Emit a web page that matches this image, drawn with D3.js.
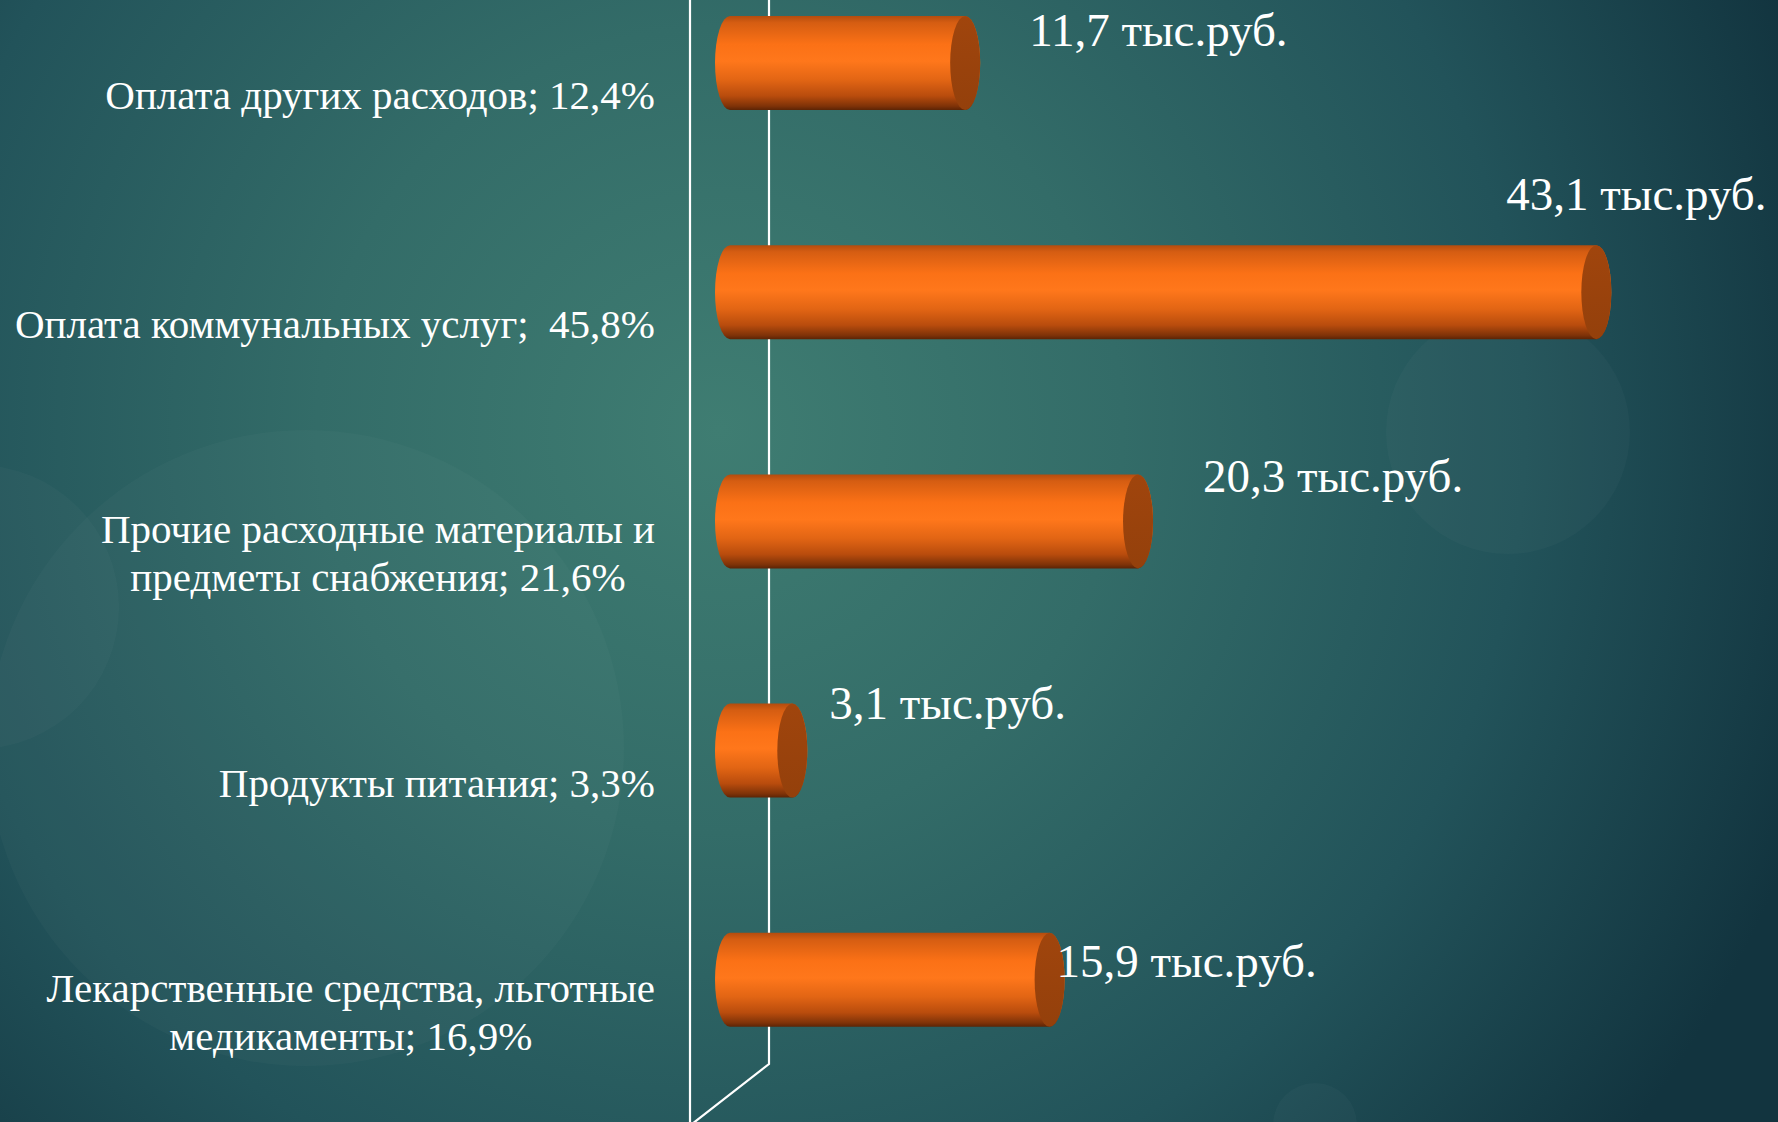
<!DOCTYPE html>
<html>
<head>
<meta charset="utf-8">
<script src="https://cdn.jsdelivr.net/npm/d3@7"></script>
<style>
  html, body { margin: 0; padding: 0; overflow: hidden; background: #1d4a52; }
  svg { display: block; }
  text { fill: #fff; }
</style>
</head>
<body>
<div id="chart"></div>
<script>
const width = 1778;
const height = 1122;
const serif = "'Liberation Serif', Tinos, 'Times New Roman', serif";

// chart data
const categories = [
  ["Оплата других расходов"],
  ["Оплата коммунальных услуг"],
  ["Прочие расходные материалы и", "предметы снабжения"],
  ["Продукты питания"],
  ["Лекарственные средства, льготные", "медикаменты"]
];
const shares = [12.4, 45.8, 21.6, 3.3, 16.9];   // %
const values = [11.7, 43.1, 20.3, 3.1, 15.9];   // тыс.руб.
const unit = "тыс.руб.";

// data label nudges (the labels were dragged by hand in the original)
const labelDx = [49, -105, 50, 22, -8];
const labelDy = [-17, -82, -29, -32, -3];

const fmt = (v) => String(v).replace(".", ",");

const svg = d3.select("#chart").append("svg")
  .attr("width", width)
  .attr("height", height)
  .attr("viewBox", [0, 0, width, height])
  .style("font-family", serif);

const defs = svg.append("defs");

const bg = defs.append("radialGradient")
  .attr("id", "bg")
  .attr("gradientUnits", "userSpaceOnUse")
  .attr("cx", 720).attr("cy", 430).attr("r", 1150);
bg.append("stop").attr("offset", 0).attr("stop-color", "#3f7d72");
bg.append("stop").attr("offset", 0.35).attr("stop-color", "#336c68");
bg.append("stop").attr("offset", 0.7).attr("stop-color", "#22535a");
bg.append("stop").attr("offset", 1).attr("stop-color", "#12343f");

const body = defs.append("linearGradient")
  .attr("id", "cyl").attr("x1", 0).attr("y1", 0).attr("x2", 0).attr("y2", 1);
[[0, "#b44c0e"], [0.07, "#d55d12"], [0.3, "#fb7116"], [0.48, "#ff771b"],
 [0.68, "#e26514"], [0.85, "#b94c0d"], [0.96, "#7e3208"], [1, "#5c2405"]]
  .forEach(([o, c]) => body.append("stop").attr("offset", o).attr("stop-color", c));

const cap = defs.append("linearGradient")
  .attr("id", "cap").attr("x1", 0).attr("y1", 0).attr("x2", 0).attr("y2", 1);
cap.append("stop").attr("offset", 0).attr("stop-color", "#a0450d");
cap.append("stop").attr("offset", 1).attr("stop-color", "#94400b");

// background + soft bubbles
svg.append("rect").attr("width", width).attr("height", height).attr("fill", "url(#bg)");
const bubbles = [[306, 748, 318], [-23, 607, 142], [1508, 432, 122], [1315, 1125, 42]];
svg.append("g").selectAll("circle")
  .data(bubbles)
  .join("circle")
  .attr("cx", (d) => d[0]).attr("cy", (d) => d[1]).attr("r", (d) => d[2])
  .attr("fill", "#ffffff").attr("fill-opacity", 0.022);

// scales
const x = d3.scaleLinear().domain([0, 50]).range([730, 1735]);
const y = d3.scaleBand()
  .domain(d3.range(categories.length))
  .range([-51.6, 1094.4])
  .paddingInner(0.59)
  .paddingOuter(0.295);

const rx = 15;
const ry = y.bandwidth() / 2;
const x0 = x(0);

// walls (3D frame)
const frame = svg.append("g")
  .attr("fill", "none").attr("stroke", "#ffffff").attr("stroke-width", 2.2);
frame.append("line").attr("x1", x0 - 40).attr("x2", x0 - 40).attr("y1", 0).attr("y2", height);
frame.append("path")
  .attr("d", `M${x0 + 39},0 L${x0 + 39},1064 L${x0 - 38},${height + 2}`);

// cylinders
const bars = svg.append("g").selectAll("g")
  .data(values)
  .join("g");

bars.append("path")
  .attr("fill", "url(#cyl)")
  .attr("d", (d, i) => {
    const cy = y(i) + ry;
    const x1 = x(d);
    return `M${x0},${cy - ry} L${x1},${cy - ry} A${rx},${ry} 0 0 1 ${x1},${cy + ry}` +
           ` L${x0},${cy + ry} A${rx},${ry} 0 0 1 ${x0},${cy - ry} Z`;
  });

bars.append("ellipse")
  .attr("fill", "url(#cap)")
  .attr("cx", (d) => x(d))
  .attr("cy", (d, i) => y(i) + ry)
  .attr("rx", rx)
  .attr("ry", ry);

// data labels
bars.append("text")
  .attr("font-size", 47)
  .attr("x", (d, i) => x(d) + rx + labelDx[i])
  .attr("y", (d, i) => y(i) + ry + labelDy[i])
  .text((d) => `${fmt(d)} ${unit}`);

// category labels
const labelRight = 655;
const lineH = 48;
const cat = svg.append("g").attr("font-size", 41);
categories.forEach((lines, i) => {
  const sep = i === 1 ? ";\u00a0\u00a0" : "; ";
  const rows = lines.slice();
  rows[rows.length - 1] += sep + fmt(shares[i]) + "%";
  const yc = y(i) + ry + 32;
  const t = cat.append("text");
  const spans = rows.map((r, k) => t.append("tspan")
    .attr("y", yc - (rows.length - 1) * lineH / 2 + 14 + k * lineH)
    .text(r));
  if (rows.length === 1) {
    spans[0].attr("x", labelRight).attr("text-anchor", "end");
  } else {
    const w = d3.max(spans, (s) => s.node().getComputedTextLength());
    spans.forEach((s) => s.attr("x", labelRight - w / 2).attr("text-anchor", "middle"));
  }
});
</script>
</body>
</html>
